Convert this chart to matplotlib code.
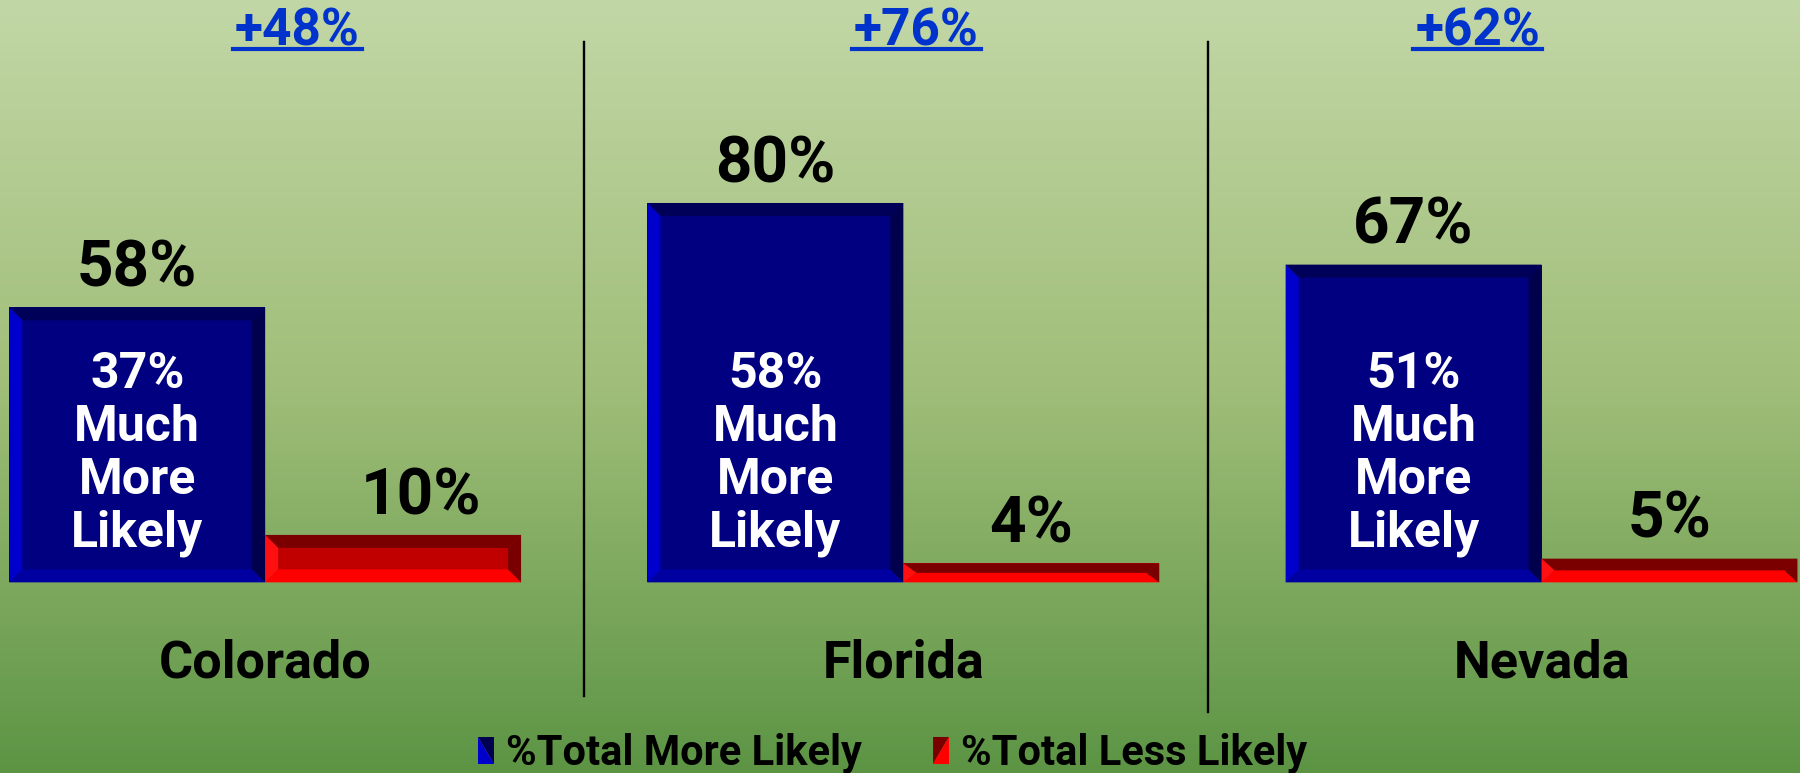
import numpy as np
import matplotlib.pyplot as plt
from matplotlib.patches import Polygon
from matplotlib.legend_handler import HandlerBase
from matplotlib.lines import Line2D

states = ['Colorado', 'Florida', 'Nevada']
more_likely = [58, 80, 67]
less_likely = [10, 4, 5]
much_more = [37, 58, 51]
net_diff = ['+48%', '+76%', '+62%']
series_names = ['%Total More Likely', '%Total Less Likely']

plt.rcParams['font.family'] = ['Roboto', 'DejaVu Sans']
plt.rcParams['font.weight'] = 'bold'

# bevel colours: face, top, bottom, left, right
blue_bev = ['#000080', '#000058', '#0000A0', '#0000CC', '#00004C']
red_bev = ['#C00000', '#7A0000', '#FF0000', '#FF1010', '#780000']

fig = plt.figure(figsize=(18, 7.73), dpi=100)

# background gradient
bg = fig.add_axes([0, 0, 1, 1], zorder=-1)
stops = np.array([0.0, 0.5, 1.0])
cols = np.array([[194, 215, 166], [160, 190, 121], [92, 148, 68]]) / 255.
t = np.linspace(0, 1, 400)
grad = np.stack([np.interp(t, stops, cols[:, k]) for k in range(3)], axis=1)
bg.imshow(grad[:, None, :], aspect='auto', extent=[0, 1, 0, 1])
bg.axis('off')

ax = fig.add_axes([0, 0, 1, 1])
ax.set_xlim(-0.4155, 2.405)
ax.set_ylim(-40.2, 122.8)
ax.axis('off')

w = 0.401
x = np.arange(len(states))
b1 = ax.bar(x - w / 2, more_likely, w, color=blue_bev[0], zorder=2)
b2 = ax.bar(x + w / 2, less_likely, w, color=red_bev[0], zorder=2)


def bevel(rect, c):
    x0, y0 = rect.get_x(), rect.get_y()
    x1, y1 = x0 + rect.get_width(), y0 + rect.get_height()
    bx = 0.0204
    by = min(2.74, rect.get_height() / 2)
    faces = [
        [(x0, y1), (x1, y1), (x1 - bx, y1 - by), (x0 + bx, y1 - by)],
        [(x0, y0), (x1, y0), (x1 - bx, y0 + by), (x0 + bx, y0 + by)],
        [(x0, y0), (x0, y1), (x0 + bx, y1 - by), (x0 + bx, y0 + by)],
        [(x1, y0), (x1, y1), (x1 - bx, y1 - by), (x1 - bx, y0 + by)],
    ]
    for f, col in zip(faces, c[1:]):
        ax.add_patch(Polygon(f, closed=True, facecolor=col, edgecolor='none', zorder=3))


for r in b1:
    bevel(r, blue_bev)
for r in b2:
    bevel(r, red_bev)

# value labels (the 10% label sits a little right of its bar in the original)
less_lab_dx = [0.043, 0.0, 0.0]
for i in range(len(states)):
    ax.text(x[i] - w / 2, more_likely[i] + 4.4, '%d%%' % more_likely[i],
            ha='center', va='baseline', fontsize=46, fontweight='bold', color='black')
    ax.text(x[i] + w / 2 + less_lab_dx[i], less_likely[i] + 4.4, '%d%%' % less_likely[i],
            ha='center', va='baseline', fontsize=46, fontweight='bold', color='black')
    ax.text(x[i] - w / 2, 27, '%d%%\nMuch\nMore\nLikely' % much_more[i],
            ha='center', va='center', fontsize=36, fontweight='bold', color='white',
            linespacing=1.16, zorder=4)
    ax.text(x[i], -20, states[i], ha='center', va='baseline',
            fontsize=37.5, fontweight='bold', color='black')

top_x = [0.05, 1.02, 1.90]
top_y = 113.3
top_txt = []
for i in range(len(states)):
    tt = ax.text(top_x[i], top_y, net_diff[i], ha='center', va='baseline',
                 fontsize=37, fontweight='bold', color='#0033CC')
    top_txt.append(tt)

# separators
sep_x = [0.5, 1.477]
sep_bottom = [-24, -27.4]
for s, yb in zip(sep_x, sep_bottom):
    ax.plot([s, s], [114, yb], color='black', lw=1.7, zorder=1)


class BevelHandler(HandlerBase):
    def __init__(self, dark, light, flip):
        super().__init__()
        self.dark, self.light, self.flip = dark, light, flip

    def create_artists(self, legend, orig_handle, xdescent, ydescent, width, height, fontsize, trans):
        x0, y0 = -xdescent, -ydescent
        x1, y1 = x0 + width, y0 + height
        if self.flip:
            p1 = Polygon([(x0, y1), (x1, y1), (x1, y0)], facecolor=self.dark, transform=trans)
            p2 = Polygon([(x0, y1), (x0, y0), (x1, y0)], facecolor=self.light, transform=trans)
        else:
            p1 = Polygon([(x0, y1), (x1, y1), (x0, y0)], facecolor=self.dark, transform=trans)
            p2 = Polygon([(x1, y1), (x1, y0), (x0, y0)], facecolor=self.light, transform=trans)
        return [p1, p2]


fig.legend([b1, b2], series_names, loc='lower center', bbox_to_anchor=(0.496, -0.05),
           ncol=2, frameon=False, prop={'size': 30, 'weight': 'bold'},
           handlelength=0.38, handleheight=0.62, handletextpad=0.3, columnspacing=1.7,
           handler_map={b1: BevelHandler('#000050', '#0000CC', True),
                        b2: BevelHandler('#7A0000', '#FF0000', False)})

# underline for the top labels
fig.canvas.draw()
rend = fig.canvas.get_renderer()
W, H = fig.get_size_inches() * fig.dpi
for tt in top_txt:
    bb = tt.get_window_extent(rend)
    base = ax.transData.transform((0, top_y))[1]
    yl = (base - 4) / H
    fig.lines.append(Line2D([(bb.x0 - 2) / W, (bb.x1 + 2) / W], [yl, yl],
                            transform=fig.transFigure, color='#0033CC', lw=3))

fig.savefig('out.png', dpi=100)
